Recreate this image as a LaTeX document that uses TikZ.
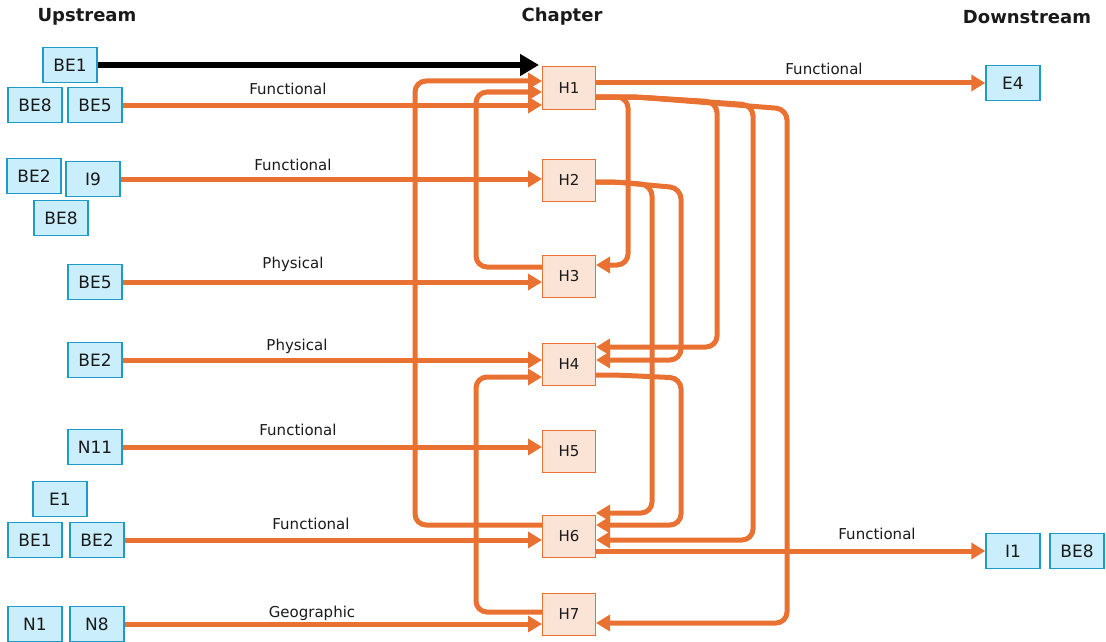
\documentclass[tikz,border=0pt]{standalone}
\usepackage{fontspec}
\setmainfont{DejaVu Sans}
\usetikzlibrary{arrows.meta,calc}
\definecolor{orng}{HTML}{E97132}
\definecolor{hfill}{HTML}{FBE3D6}
\definecolor{bfill}{HTML}{CAEEFB}
\definecolor{bborder}{HTML}{1F9BCB}
\definecolor{txt}{HTML}{1A1A1A}
\begin{document}
\begin{tikzpicture}[x=1pt,y=-1pt,
  hbox/.style={draw=orng,fill=hfill,line width=1pt,minimum width=53pt,minimum height=42pt,inner sep=0pt,text=txt,font=\fontsize{15}{17}\selectfont},
  bbox/.style={draw=bborder,fill=bfill,line width=1.4pt,minimum width=54pt,minimum height=35pt,inner sep=0pt,text=txt,font=\fontsize{17}{19}\selectfont},
  conn/.style={draw=orng,line width=5pt,-{Triangle[length=14pt,width=16pt]},rounded corners=11pt},
  blk/.style={draw=black,line width=6.5pt,-{Triangle[length=19pt,width=21pt]},shorten >=3pt},
  lbl/.style={text=txt,font=\fontsize{15}{17}\selectfont},
  hdr/.style={text=txt,font=\bfseries\fontsize{18}{20}\selectfont}]
\useasboundingbox (0,0) rectangle (1106,642);
% headers
\node[hdr] (hUp) at (87,17) {Upstream};
\node[hdr] (hCh) at (562,17) {Chapter};
\node[hdr] (hDn) at (1027,17) {Downstream};
% chapter nodes
\node[hbox] (H1) at (569,88) {H1};
\node[hbox] (H2) at (569,180) {H2};
\node[hbox] (H3) at (569,276) {H3};
\node[hbox] (H4) at (569,364) {H4};
\node[hbox] (H5) at (569,451) {H5};
\node[hbox] (H6) at (569,536) {H6};
\node[hbox] (H7) at (569,614) {H7};
% upstream boxes
\node[bbox] (BE1a) at (70,65) {BE1};
\node[bbox] (BE8a) at (35,105) {BE8};
\node[bbox] (BE5a) at (95,105) {BE5};
\node[bbox] (BE2a) at (34,176) {BE2};
\node[bbox] (I9) at (93,179) {I9};
\node[bbox] (BE8b) at (61,218) {BE8};
\node[bbox] (BE5b) at (95,282) {BE5};
\node[bbox] (BE2b) at (95,360) {BE2};
\node[bbox] (N11) at (95,447) {N11};
\node[bbox] (E1) at (60,499) {E1};
\node[bbox] (BE1b) at (35,540) {BE1};
\node[bbox] (BE2c) at (97,540) {BE2};
\node[bbox] (N1) at (35,624) {N1};
\node[bbox] (N8) at (97,624) {N8};
% downstream boxes
\node[bbox] (E4) at (1013,83) {E4};
\node[bbox] (I1) at (1013,551) {I1};
\node[bbox] (BE8c) at (1077,551) {BE8};
% black arrow
\draw[blk] (BE1a.east) -- (BE1a.east -| H1.west);
% upstream connectors
\draw[conn] (BE5a.east) -- (BE5a.east -| H1.west);
\draw[conn] (I9.east) -- (I9.east -| H2.west);
\draw[conn] (BE5b.east) -- (BE5b.east -| H3.west);
\draw[conn] (BE2b.east) -- (BE2b.east -| H4.west);
\draw[conn] (N11.east) -- (N11.east -| H5.west);
\draw[conn] (BE2c.east) -- (BE2c.east -| H6.west);
\draw[conn] (N8.east) -- (N8.east -| H7.west);
% downstream connectors
\draw[conn] (E4.west -| H1.east) -- (E4.west);
\draw[conn] (I1.west -| H6.east) -- (I1.west);
% loops on the left
\draw[conn] ($(H3.west)+(0,-9)$) -- ++(-66,0) |- ($(H1.west)+(0,4)$);
\draw[conn] ($(H6.west)+(0,-11)$) -- ++(-127,0) |- ($(H1.west)+(0,-7)$);
\draw[conn] ($(H7.west)+(0,-2)$) -- ++(-66,0) |- ($(H4.west)+(0,13)$);
% loops on the right from H1
\draw[conn] ($(H1.east)+(0,9)$) -- ++(32,0) |- ($(H3.east)+(0,-11)$);
\draw[conn] ($(H1.east)+(0,9)$) -- ++(40,0) -- ++(81,5) |- ($(H4.east)+(0,-17)$);
\draw[conn] ($(H1.east)+(0,9)$) -- ++(40,0) -- ++(117,8) |- ($(H6.east)+(0,4)$);
\draw[conn] ($(H1.east)+(0,9)$) -- ++(40,0) -- ++(151,12) |- ($(H7.east)+(0,9)$);
% from H2
\draw[conn] ($(H2.east)+(0,2)$) -- ++(20,0) -- ++(36,3) |- ($(H6.east)+(0,-23)$);
\draw[conn] ($(H2.east)+(0,2)$) -- ++(20,0) -- ++(65,6) |- ($(H4.east)+(0,-4)$);
% from H4
\draw[conn] ($(H4.east)+(0,11)$) -- ++(20,0) -- ++(65,3) |- ($(H6.east)+(0,-11)$);
% labels
\node[lbl] (l1) at (288,89) {Functional};
\node[lbl] (l2) at (293,165) {Functional};
\node[lbl] (l3) at (293,264) {Physical};
\node[lbl] (l4) at (297,346) {Physical};
\node[lbl] (l5) at (298,430) {Functional};
\node[lbl] (l6) at (311,524) {Functional};
\node[lbl] (l7) at (312,613) {Geographic};
\node[lbl] (l8) at (824,69) {Functional};
\node[lbl] (l9) at (877,534) {Functional};
\end{tikzpicture}
\end{document}
